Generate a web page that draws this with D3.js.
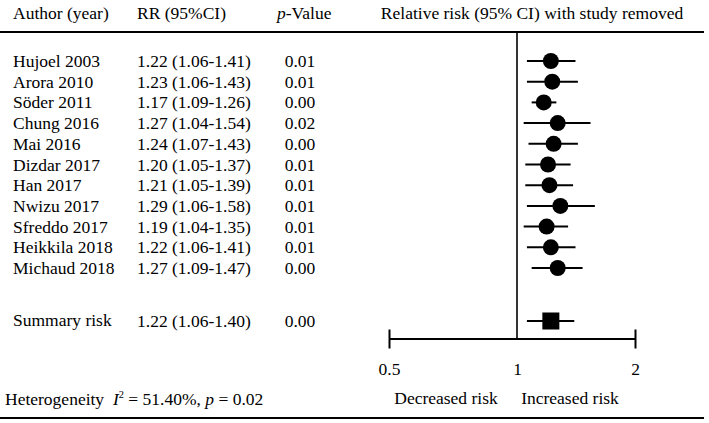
<!DOCTYPE html>
<html><head><meta charset="utf-8">
<script src="https://cdn.jsdelivr.net/npm/d3@7"></script>
<style>
html,body{margin:0;padding:0;background:#fff;}
svg{display:block;}
text{font-family:"Liberation Serif","Times New Roman",serif;fill:#000;}
</style></head>
<body>
<script>
const studies = ["Hujoel 2003","Arora 2010","Söder 2011","Chung 2016","Mai 2016","Dizdar 2017","Han 2017","Nwizu 2017","Sfreddo 2017","Heikkila 2018","Michaud 2018"];
const rr =    [1.22,1.23,1.17,1.27,1.24,1.20,1.21,1.29,1.19,1.22,1.27];
const lower = [1.06,1.06,1.09,1.04,1.07,1.05,1.05,1.06,1.04,1.06,1.09];
const upper = [1.41,1.43,1.26,1.54,1.43,1.37,1.39,1.58,1.35,1.41,1.47];
const pvals = ["0.01","0.01","0.00","0.02","0.00","0.01","0.01","0.01","0.01","0.01","0.00"];
const summary = {label:"Summary risk", rr:1.22, lower:1.06, upper:1.40, p:"0.00"};
const tickValues = [0.5, 1, 2];
const tickLabels = ["0.5","1","2"];

const W = 709, H = 423;
const FS = 17.5;
const svg = d3.select("body").append("svg").attr("width",W).attr("height",H);

const x = d3.scaleLog().domain([0.5,1,2]).range([389,517,635]);
const rowY = d3.scalePoint().domain(studies).range([61,268]);
const summaryY = 321;
const axisY = 339;

// header
const hdrY = 19;
svg.append("text").attr("x",13).attr("y",hdrY).attr("font-size",FS).text("Author (year)");
svg.append("text").attr("x",137).attr("y",hdrY).attr("font-size",FS).text("RR (95%CI)");
const pv = svg.append("text").attr("x",277).attr("y",hdrY).attr("font-size",FS);
pv.append("tspan").attr("font-style","italic").text("p");
pv.append("tspan").text("-Value");
svg.append("text").attr("x",532).attr("y",hdrY).attr("font-size",FS).attr("text-anchor","middle").text("Relative risk (95% CI) with study removed");

// horizontal rules
svg.append("line").attr("x1",0).attr("x2",704).attr("y1",32).attr("y2",32).attr("stroke","#000").attr("stroke-width",2);
svg.append("line").attr("x1",0).attr("x2",704).attr("y1",418).attr("y2",418).attr("stroke","#000").attr("stroke-width",2);

// vertical line at 1
svg.append("line").attr("x1",x(1)).attr("x2",x(1)).attr("y1",32).attr("y2",axisY).attr("stroke","#000").attr("stroke-width",1.6);

// rows
const fmt = d3.format(".2f");
studies.forEach((s,i)=>{
  const y = rowY(s);
  const by = y + 6;
  svg.append("text").attr("x",13).attr("y",by).attr("font-size",FS).text(s);
  svg.append("text").attr("x",137).attr("y",by).attr("font-size",FS).text(`${fmt(rr[i])} (${fmt(lower[i])}-${fmt(upper[i])})`);
  svg.append("text").attr("x",300).attr("y",by).attr("font-size",FS).attr("text-anchor","middle").text(pvals[i]);
  svg.append("line").attr("x1",x(lower[i])).attr("x2",x(upper[i])).attr("y1",y).attr("y2",y).attr("stroke","#000").attr("stroke-width",2);
  svg.append("circle").attr("cx",x(rr[i])).attr("cy",y).attr("r",8).attr("fill","#000");
});

// summary
{
  const y = summaryY, by = y + 6;
  svg.append("text").attr("x",13).attr("y",by-1).attr("font-size",FS).text(summary.label);
  svg.append("text").attr("x",137).attr("y",by).attr("font-size",FS).text(`${fmt(summary.rr)} (${fmt(summary.lower)}-${fmt(summary.upper)})`);
  svg.append("text").attr("x",300).attr("y",by).attr("font-size",FS).attr("text-anchor","middle").text(summary.p);
  svg.append("line").attr("x1",x(summary.lower)).attr("x2",x(summary.upper)).attr("y1",y).attr("y2",y).attr("stroke","#000").attr("stroke-width",2);
  svg.append("rect").attr("x",x(summary.rr)-8.5).attr("y",y-8.5).attr("width",17).attr("height",17).attr("fill","#000");
}

// axis
const axis = d3.axisBottom(x).tickValues(tickValues).tickFormat((d,i)=>tickLabels[i]).tickSizeOuter(0);
const ag = svg.append("g").attr("transform",`translate(0,${axisY})`).call(axis);
ag.select(".domain").attr("stroke","#000").attr("stroke-width",2).attr("d",`M${x(0.5)},0H${x(2)}`);
ag.selectAll(".tick line").attr("y1",-9.5).attr("y2",9.5).attr("stroke","#000").attr("stroke-width",2)
  .attr("display",d=> d===1 ? "none" : null);
ag.selectAll(".tick text").attr("y",36).attr("dy",null).attr("font-size",FS)
  .attr("font-family","Liberation Serif, Times New Roman, serif").attr("fill","#000");

svg.append("text").attr("x",446).attr("y",404).attr("font-size",FS).attr("text-anchor","middle").text("Decreased risk");
svg.append("text").attr("x",570).attr("y",404).attr("font-size",FS).attr("text-anchor","middle").text("Increased risk");

// heterogeneity
const ht = svg.append("text").attr("x",5).attr("y",405).attr("font-size",FS).attr("xml:space","preserve");
ht.append("tspan").text("Heterogeneity  ");
ht.append("tspan").attr("font-style","italic").text("I");
ht.append("tspan").attr("font-size",FS*0.6).attr("dy",-7).text("2");
ht.append("tspan").attr("dy",7).text(" = 51.40%, ");
ht.append("tspan").attr("font-style","italic").text("p");
ht.append("tspan").text(" = 0.02");
</script>
</body></html>
